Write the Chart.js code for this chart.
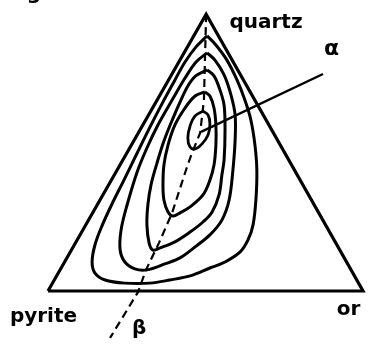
<!DOCTYPE html>
<html>
<head>
<meta charset="utf-8">
<script src="https://cdn.jsdelivr.net/npm/chart.js@4/dist/chart.umd.min.js"></script>
<style>
  body { margin: 0; background: #fff; }
  canvas { display: block; }
</style>
</head>
<body>
<canvas id="ternary" width="371" height="346"></canvas>
<script>
// triangle corners: pyrite (left), or (right), quartz (top)
const triangle = [[0, 0], [100, 0], [50.2, 87.9], [0, 0]];

// density contours, outermost first (x along pyrite-or base, y toward quartz)
const contour1 = [
    [50.5, 81.0], [53.3, 78.1], [56.8, 73.3], [60.0, 67.0], [62.5, 60.6], [64.4, 54.3],
    [65.7, 46.3], [66.3, 38.4], [66.0, 28.9], [65.1, 21.0], [63.5, 16.2], [61.0, 12.4],
    [56.2, 9.2], [51.4, 7.3], [45.1, 4.8], [38.7, 3.5], [32.4, 2.5], [24.4, 2.5],
    [18.1, 3.5], [14.9, 5.7], [14.0, 9.2], [14.9, 14.6], [17.1, 20.6], [20.3, 27.6],
    [24.1, 35.2], [28.3, 43.8], [32.4, 52.1], [36.8, 60.6], [40.3, 67.0], [43.5, 72.7],
    [47.0, 77.5], [50.5, 81.0]
];
const contour2 = [
    [50.5, 75.6], [53.0, 73.3], [55.9, 68.6], [58.1, 62.2], [59.4, 55.9], [59.4, 47.9],
    [58.7, 38.4], [57.5, 28.9], [55.2, 22.5], [51.4, 17.8], [46.7, 14.0], [41.9, 10.5],
    [37.1, 8.6], [31.4, 6.7], [27.6, 7.0], [24.4, 9.2], [22.9, 13.0], [23.2, 19.4],
    [25.1, 27.3], [28.3, 37.8], [31.4, 45.4], [34.9, 52.7], [39.4, 60.6], [43.5, 67.6],
    [47.0, 72.7], [50.5, 75.6]
];
const contour3 = [
    [50.5, 70.2], [52.7, 68.3], [54.6, 63.8], [55.9, 59.0], [56.2, 51.1], [55.9, 41.6],
    [55.2, 36.8], [54.3, 30.5], [52.1, 25.1], [49.2, 21.9], [45.1, 18.7], [40.3, 15.6],
    [35.6, 13.7], [33.3, 13.0], [32.1, 15.2], [31.4, 21.0], [31.7, 27.3], [32.7, 33.7],
    [34.6, 40.6], [36.8, 47.6], [39.7, 54.9], [42.2, 60.6], [44.4, 65.1], [46.9, 68.3],
    [50.5, 70.2]
];
const contour4 = [
    [49.8, 63.2], [51.4, 61.9], [52.7, 58.1], [53.3, 52.7], [53.3, 46.3], [52.7, 40.0],
    [51.4, 35.2], [49.2, 30.5], [45.1, 26.7], [41.9, 24.8], [39.7, 23.8], [38.1, 25.1],
    [36.8, 28.9], [36.5, 33.7], [36.8, 40.0], [38.1, 46.3], [40.3, 52.7], [43.5, 58.1],
    [46.7, 61.9], [49.8, 63.2]
];
const contour5 = [
    [49.2, 57.1], [50.8, 55.9], [51.4, 53.0], [50.8, 49.5], [48.9, 46.7], [46.7, 45.1],
    [45.1, 45.7], [44.4, 48.6], [45.1, 52.4], [46.7, 55.6], [49.2, 57.1]
];

// trend line beta (dashed) and pointer to maximum alpha
const betaLine = [
    [50.2, 87.9], [49.5, 60.6], [48.3, 50.2], [45.7, 43.8], [43.8, 38.4], [39.4, 24.8],
    [35.2, 15.2], [31.1, 6.7], [28.6, -0.3], [19.7, -14.9]
];
const alphaLine = [[48.6, 50.5], [87.3, 68.9]];

const labels = [
    { text: 'Figure', x: -13.3, y: 92.7, size: 20 },
    { text: 'quartz', x: 57.6, y: 83.5, size: 20 },
    { text: 'α', x: 87.6, y: 74.9, size: 22 },
    { text: 'pyrite', x: -12.1, y: -9.8, size: 20 },
    { text: 'or', x: 91.7, y: -7.6, size: 20 },
    { text: 'β', x: 26.7, y: -13.7, size: 20 }
];

function toPoints(arr) {
    return arr.map(p => ({ x: p[0], y: p[1] }));
}

function lineSet(arr, width, extra) {
    return Object.assign({
        data: toPoints(arr),
        showLine: true,
        borderColor: '#000',
        borderWidth: width,
        pointRadius: 0,
        fill: false,
        tension: 0
    }, extra || {});
}

const labelPlugin = {
    id: 'labels',
    afterDatasetsDraw(chart) {
        const ctx = chart.ctx;
        const xs = chart.scales.x, ys = chart.scales.y;
        ctx.save();
        ctx.fillStyle = '#000';
        ctx.textAlign = 'left';
        ctx.textBaseline = 'alphabetic';
        labels.forEach(l => {
            ctx.font = 'bold ' + l.size + 'px "DejaVu Sans"';
            ctx.fillText(l.text, xs.getPixelForValue(l.x), ys.getPixelForValue(l.y));
        });
        ctx.restore();
    }
};

new Chart(document.getElementById('ternary'), {
    type: 'scatter',
    data: {
        datasets: [
            lineSet(triangle, 3.2),
            lineSet(contour1, 3, { tension: 0.35 }),
            lineSet(contour2, 3, { tension: 0.35 }),
            lineSet(contour3, 3, { tension: 0.35 }),
            lineSet(contour4, 3, { tension: 0.35 }),
            lineSet(contour5, 2.8, { tension: 0.4 }),
            lineSet(betaLine, 2.2, { borderDash: [8, 5] }),
            lineSet(alphaLine, 2.4)
        ]
    },
    options: {
        responsive: false,
        animation: false,
        layout: { padding: 0 },
        plugins: {
            legend: { display: false },
            tooltip: { enabled: false }
        },
        scales: {
            x: { type: 'linear', min: -15.24, max: 102.54, display: false },
            y: { type: 'linear', min: -17.46, max: 92.38, display: false }
        }
    },
    plugins: [labelPlugin]
});
</script>
</body>
</html>
